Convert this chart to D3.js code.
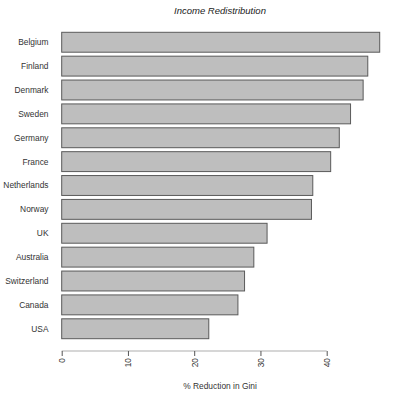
<!DOCTYPE html>
<html>
<head>
<meta charset="utf-8">
<script src="https://cdn.jsdelivr.net/npm/d3@7"></script>
<style>
  body { margin: 0; background: #fff; }
  text { font-family: "Liberation Sans", Arial, sans-serif; }
</style>
</head>
<body>
<div id="chart"></div>
<script>
// countries, top to bottom
var countries = ["Belgium", "Finland", "Denmark", "Sweden", "Germany", "France",
    "Netherlands", "Norway", "UK", "Australia", "Switzerland", "Canada", "USA"];
// % reduction in Gini
var reduction = [48.0, 46.2, 45.5, 43.6, 41.9, 40.6, 37.9, 37.7, 31.0, 29.0, 27.6, 26.6, 22.2];
var xTicks = [0, 10, 20, 30, 40];

var width = 400, height = 400;

var svg = d3.select("#chart")
    .append("svg")
    .attr("width", width)
    .attr("height", height);

var data = countries.map(function (c, i) {
    return {country: c, value: reduction[i]};
});

// x scale: 0 -> 61.7, 40 -> 326.7
var x = d3.scaleLinear()
    .domain([0, 40])
    .range([61.7, 326.7]);

var y = d3.scaleBand()
    .domain(countries)
    .range([32.3, 338.7])
    .paddingInner(1 / 6)
    .paddingOuter(0);

// bars
svg.selectAll("rect.bar")
    .data(data)
    .enter()
    .append("rect")
    .attr("class", "bar")
    .attr("x", x(0))
    .attr("y", function (d) { return y(d.country); })
    .attr("width", function (d) { return x(d.value) - x(0); })
    .attr("height", y.bandwidth())
    .style("fill", "#bebebe")
    .style("stroke", "#5a5a5a")
    .style("stroke-width", 1);

// country labels
svg.selectAll("text.cat")
    .data(data)
    .enter()
    .append("text")
    .attr("class", "cat")
    .attr("x", 48.5)
    .attr("y", function (d) { return y(d.country) + y.bandwidth() / 2; })
    .attr("dy", "0.35em")
    .attr("text-anchor", "end")
    .style("font-size", "8.4px")
    .style("fill", "#333")
    .text(function (d) { return d.country; });

// x axis
var axisY = 351;
var xAxis = svg.append("g")
    .attr("transform", "translate(0," + axisY + ")")
    .call(d3.axisBottom(x).tickValues(xTicks).tickSize(5).tickFormat(d3.format("d")));

xAxis.select(".domain")
    .attr("d", "M" + x(0) + ",0H" + x(40))
    .style("stroke", "#c8c8c8")
    .style("stroke-width", 1.5);
xAxis.selectAll(".tick line").style("stroke", "#555");
xAxis.selectAll(".tick text")
    .attr("transform", "rotate(-90)")
    .attr("x", -7)
    .attr("y", 0)
    .attr("dy", "0.35em")
    .attr("text-anchor", "end")
    .style("font-size", "8.4px")
    .style("font-family", "'Liberation Sans', Arial, sans-serif")
    .style("fill", "#333");

// axis title
svg.append("text")
    .attr("x", 220)
    .attr("y", 389)
    .attr("text-anchor", "middle")
    .style("font-size", "8.4px")
    .style("fill", "#333")
    .text("% Reduction in Gini");

// chart title
svg.append("text")
    .attr("x", 220)
    .attr("y", 14)
    .attr("text-anchor", "middle")
    .style("font-size", "9.5px")
    .style("font-style", "italic")
    .style("fill", "#222")
    .text("Income Redistribution");
</script>
</body>
</html>
